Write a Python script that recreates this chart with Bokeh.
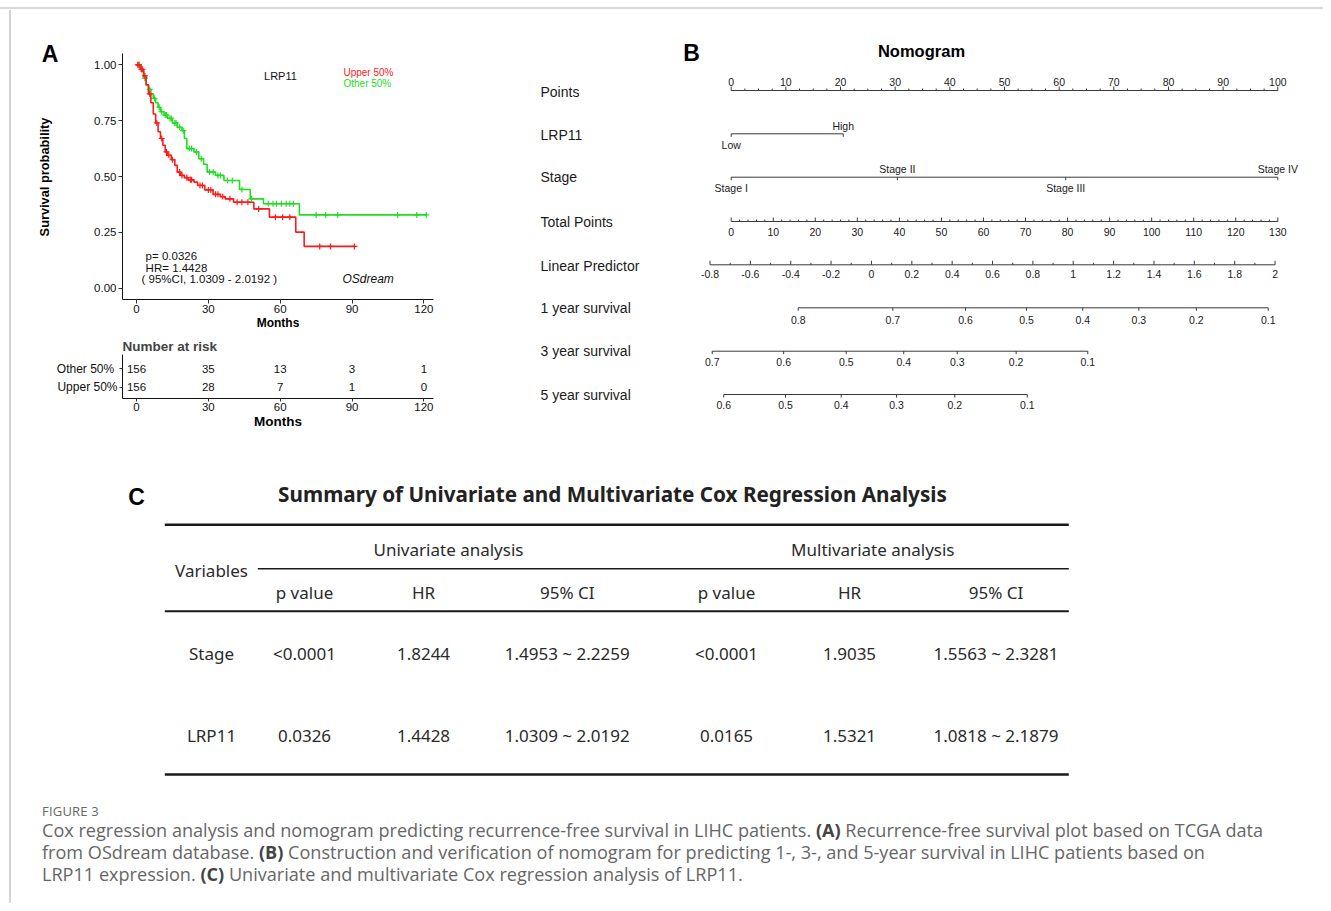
import numpy as np
from bokeh.plotting import figure
from bokeh.models import Range1d, FixedTicker, NumeralTickFormatter, Div, Spacer
from bokeh.layouts import row, column
from bokeh.embed import file_html
from bokeh.resources import INLINE
from bokeh.core.properties import value

ARIAL = value("Liberation Sans")
NOTO = value("Noto Sans")

# ---------------- Panel A: Kaplan-Meier data ----------------
upper_time = [0, 1.5, 3, 4, 5, 6, 7, 8, 9, 10, 11, 12, 13, 14.5, 16, 17, 18.5, 20, 21.5, 24,
              25.5, 28.5, 32, 35, 37, 40.5, 49, 55.5, 66.5, 70]
upper_surv = [1.0, 0.98, 0.95, 0.91, 0.87, 0.83, 0.78, 0.74, 0.70, 0.67, 0.64, 0.61, 0.595, 0.575,
              0.55, 0.52, 0.505, 0.495, 0.485, 0.475, 0.46, 0.44, 0.42, 0.41, 0.40, 0.385, 0.355,
              0.318, 0.251, 0.187]
upper_end = 91
upper_censor = [0.5, 1, 2, 2.5, 3.5, 5.5, 8.5, 10.5, 12.5, 13.5, 15, 18, 19, 21, 22.5, 23, 26.5,
                27.5, 30, 31, 33, 34, 36, 39, 42, 44, 46.5, 51, 58, 61, 64, 76.5, 81, 91]

other_time = [0, 2, 3, 4, 5, 6, 7, 8, 9, 10, 11.5, 13, 15, 17, 19, 20, 21, 24, 26, 28,
              29.5, 33, 36.5, 43, 47.5, 53, 68]
other_surv = [1.0, 0.97, 0.94, 0.91, 0.89, 0.87, 0.85, 0.83, 0.81, 0.79, 0.775, 0.76, 0.74, 0.72,
              0.705, 0.67, 0.625, 0.61, 0.58, 0.555, 0.52, 0.505, 0.482, 0.442, 0.40, 0.378, 0.328]
other_end = 121
other_censor = [1, 3.5, 5.5, 7.5, 9.5, 10.5, 12, 12.5, 14, 14.5, 16, 16.5, 18, 19.5, 22, 23, 25, 27,
                30.5, 32, 34, 35, 38, 40, 44, 48, 55, 57, 58.5, 60.5, 62.5, 64, 65.5, 75, 79, 84,
                109, 117, 121]

km_xticks = [0, 30, 60, 90, 120]
km_yticks = [0, 0.25, 0.5, 0.75, 1.0]
group_names = ["Upper 50%", "Other  50%"]
stats_lines = ["p= 0.0326", "HR= 1.4428", "( 95%CI, 1.0309 - 2.0192 )"]

risk_time = [0, 30, 60, 90, 120]
risk_other = [156, 35, 13, 3, 1]
risk_upper = [156, 28, 7, 1, 0]

# ---------------- Panel B: nomogram data ----------------
points_ticks = [0, 10, 20, 30, 40, 50, 60, 70, 80, 90, 100]
lrp11_levels = ["Low", "High"]
lrp11_points = [0, 20.5]
stage_levels = ["Stage I", "Stage II", "Stage III", "Stage IV"]
stage_points = [0, 30.4, 61.2, 100]
total_ticks = [0, 10, 20, 30, 40, 50, 60, 70, 80, 90, 100, 110, 120, 130]
lp_ticks = [-0.8, -0.6, -0.4, -0.2, 0, 0.2, 0.4, 0.6, 0.8, 1.0, 1.2, 1.4, 1.6, 1.8, 2.0]
lp_at_zero = -0.695      # linear predictor at 0 total points
lp_per_point = 0.020835  # linear predictor per total point
surv1_ticks = [0.8, 0.7, 0.6, 0.5, 0.4, 0.3, 0.2, 0.1]
surv1_lp = [-0.363, 0.106, 0.466, 0.768, 1.047, 1.325, 1.610, 1.966]
surv3_ticks = [0.7, 0.6, 0.5, 0.4, 0.3, 0.2, 0.1]
surv3_lp = [-0.789, -0.435, -0.125, 0.160, 0.425, 0.717, 1.072]
surv5_ticks = [0.6, 0.5, 0.4, 0.3, 0.2, 0.1]
surv5_lp = [-0.732, -0.426, -0.150, 0.124, 0.413, 0.772]

# ---------------- Panel C: Cox table ----------------
tbl_vars = ["Stage", "LRP11"]
uni_p = ["<0.0001", "0.0326"]
uni_hr = ["1.8244", "1.4428"]
uni_ci = ["1.4953 ~ 2.2259", "1.0309 ~ 2.0192"]
multi_p = ["<0.0001", "0.0165"]
multi_hr = ["1.9035", "1.5321"]
multi_ci = ["1.5563 ~ 2.3281", "1.0818 ~ 2.1879"]
col_headers = ["p value", "HR", "95% CI", "p value", "HR", "95% CI"]

RED = "#ff1a1a"
GREEN = "#22dd22"
NOMARGIN = (0, 0, 0, 0)


def canvas(w, h, x0, x1, y0, y1):
    f = figure(width=w, height=h, x_range=Range1d(x0, x1), y_range=Range1d(y0, y1),
               x_axis_type=None, y_axis_type=None, output_backend="svg",
               toolbar_location=None, min_border=0)
    f.grid.visible = False
    f.outline_line_color = None
    return f


def surv_at(times, surv, ts):
    idx = np.searchsorted(np.asarray(times), np.asarray(ts), side="right") - 1
    return [surv[i] for i in idx]


# ---------------- A: left labels (HTML text) ----------------
lab_html = (
    '<div style="position:relative;width:79px;height:325px;margin:0;padding:0;">'
    '<span style="position:absolute;left:39px;top:43.5px;transform:translate(-50%,-50%);'
    'font-family:\'Liberation Sans\';font-weight:bold;font-size:23px;line-height:1;color:#000;">A</span>'
    '<span style="position:absolute;left:34px;top:167px;transform:translate(-50%,-50%) rotate(-90deg);'
    'white-space:nowrap;font-family:\'Liberation Sans\';font-weight:bold;font-size:12.8px;'
    'line-height:1;color:#000;">Survival probability</span></div>'
)
lab = Div(text=lab_html, width=79, height=325, margin=NOMARGIN)

# ---------------- A: KM plot ----------------
km = figure(width=430, height=325, x_range=Range1d(-5.85, 124.0), y_range=Range1d(-0.0506, 1.0506),
            output_backend="svg", toolbar_location=None, min_border_left=32, min_border_right=87,
            min_border_top=43, min_border_bottom=36)
km.grid.visible = False
km.outline_line_color = None


def style_axis(ax, size="11px"):
    ax.axis_line_color = "#111"
    ax.axis_line_width = 1
    ax.major_tick_line_color = "#333"
    ax.major_tick_out = 4
    ax.major_tick_in = 0
    ax.minor_tick_line_color = None
    ax.major_label_text_font = "Liberation Sans"
    ax.major_label_text_font_size = size
    ax.major_label_text_color = "#111"
    ax.major_label_standoff = 1
    ax.axis_label_text_font = "Liberation Sans"
    ax.axis_label_text_font_style = "bold"
    ax.axis_label_text_color = "#000"
    ax.axis_label_standoff = 0


km.xaxis.ticker = FixedTicker(ticks=km_xticks)
km.yaxis.ticker = FixedTicker(ticks=km_yticks)
km.yaxis.formatter = NumeralTickFormatter(format="0.00")
style_axis(km.xaxis[0], "11.5px")
style_axis(km.yaxis[0], "11.5px")
km.yaxis.major_label_standoff = 2
km.xaxis.axis_label = "Months"
km.xaxis.axis_label_text_font_size = "12px"

for t, s, end, cens, col in [(other_time, other_surv, other_end, other_censor, GREEN),
                             (upper_time, upper_surv, upper_end, upper_censor, RED)]:
    km.step(x=list(t) + [end], y=list(s) + [s[-1]], mode="after", line_color=col, line_width=1.6)
    km.scatter(x=cens, y=surv_at(t, s, cens), marker="cross", size=6, line_color=col,
               line_width=1.2)

km.text(x=[60.1], y=[0.952], text=["LRP11"], text_font=ARIAL, text_font_size="11px",
        text_align="center", text_baseline="middle", text_color="#111")
km.text(x=[86.4, 86.4], y=[0.966, 0.916], text=group_names, text_font=ARIAL,
        text_font_size="10px", text_align="left", text_baseline="middle",
        text_color=[RED, GREEN])
km.text(x=[3.8, 3.8, 2.1], y=[0.142, 0.0895, 0.039], text=stats_lines, text_font=ARIAL,
        text_font_size="11.5px", text_align="left", text_baseline="middle", text_color="#111")
km.text(x=[86], y=[0.043], text=["OSdream"], text_font=ARIAL, text_font_style="italic",
        text_font_size="12px", text_align="left", text_baseline="middle", text_color="#111")

# ---------------- A: number at risk ----------------
risk = figure(width=509, height=105, x_range=Range1d(-5.85, 124.0), y_range=Range1d(0.389, 2.774),
              output_backend="svg", toolbar_location=None, min_border_left=111,
              min_border_right=87, min_border_top=18, min_border_bottom=42,
              title="Number at risk")
risk.title.align = "left"
risk.title.text_font = "Liberation Sans"
risk.title.text_font_size = "13.5px"
risk.title.text_font_style = "bold"
risk.title.standoff = 2
risk.title.offset = 0
risk.grid.visible = False
risk.outline_line_color = None
risk.xaxis.ticker = FixedTicker(ticks=km_xticks)
risk.yaxis.ticker = FixedTicker(ticks=[1, 2])
risk.yaxis.major_label_overrides = {1: group_names[0], 2: group_names[1]}
style_axis(risk.xaxis[0], "11.5px")
style_axis(risk.yaxis[0], "12px")
risk.xaxis.major_tick_out = 3
risk.yaxis.major_tick_out = 3
risk.yaxis.major_label_standoff = 2
risk.xaxis.axis_label = "Months"
risk.xaxis.axis_label_text_font_size = "13.5px"
risk.text(x=risk_time, y=[2] * len(risk_time), text=[str(v) for v in risk_other], text_font=ARIAL,
          text_font_size="11.5px", text_align="center", text_baseline="middle", text_color="#111")
risk.text(x=risk_time, y=[1] * len(risk_time), text=[str(v) for v in risk_upper], text_font=ARIAL,
          text_font_size="11.5px", text_align="center", text_baseline="middle", text_color="#111")

# ---------------- B: nomogram ----------------
PX0, PXS = 730.7, 5.466  # page-pixel position of 0 points and pixels per point (layout only)


def px(xpix):
    return (xpix - PX0) / PXS


def tp_x(tp):
    return [v * 100.0 / 130.0 for v in tp]


def lp_x(lps):
    return [(v - lp_at_zero) / lp_per_point * 100.0 / 130.0 for v in lps]


nomo = canvas(803, 430, px(520), px(1323), 440, 10)
LC = "#3a3a3a"
TC = "#1a1a1a"


def seg(f, x0, y0, x1, y1, w=1.0, c=LC):
    f.segment(x0=x0, y0=y0, x1=x1, y1=y1, line_color=c, line_width=w)


def nomo_axis(xs, labels, yline, ylab, tdir, xfrom, xto, minor=None, tlen=4):
    seg(nomo, [xfrom], [yline], [xto], [yline])
    seg(nomo, xs, [yline] * len(xs), xs, [yline + tdir * tlen] * len(xs))
    if minor is not None:
        seg(nomo, minor, [yline] * len(minor), minor, [yline + tdir * 2] * len(minor))
    nomo.text(x=xs, y=[ylab] * len(xs), text=labels, text_font=ARIAL, text_font_size="10.5px",
              text_align="center", text_baseline="middle", text_color=TC)


def fmt(v):
    return f"{v:g}"


nomo.text(x=[px(691)], y=[52], text=["B"], text_font=ARIAL, text_font_style="bold",
          text_font_size="23px", text_align="center", text_baseline="middle", text_color="#000")
nomo.text(x=[px(921)], y=[50], text=["Nomogram"], text_font=ARIAL, text_font_style="bold",
          text_font_size="16.5px", text_align="center", text_baseline="middle", text_color="#000")

row_names = ["Points", "LRP11", "Stage", "Total Points", "Linear Predictor",
             "1 year survival", "3 year survival", "5 year survival"]
row_y = [91.7, 134.5, 176.7, 221.7, 265, 307.3, 350.7, 394]
nomo.text(x=[px(540)] * len(row_names), y=row_y, text=row_names, text_font=ARIAL,
          text_font_size="14px", text_align="left", text_baseline="middle", text_color=TC)

# Points
nomo_axis(points_ticks, [fmt(v) for v in points_ticks], 90, 81.7, -1, 0, 100,
          minor=[v for v in np.arange(0, 100.01, 2.5) if v % 10 != 0])
# LRP11
seg(nomo, [lrp11_points[0]], [133.3], [lrp11_points[-1]], [133.3])
seg(nomo, lrp11_points, [133.3] * 2, lrp11_points, [136.3] * 2)
nomo.text(x=lrp11_points, y=[144.3, 125.7], text=lrp11_levels, text_font=ARIAL,
          text_font_size="10.5px", text_align="center", text_baseline="middle", text_color=TC)
# Stage
seg(nomo, [stage_points[0]], [176.7], [stage_points[-1]], [176.7])
seg(nomo, stage_points, [176.7] * 4, stage_points, [179.7] * 4)
nomo.text(x=stage_points, y=[187.3, 168.3, 187.3, 168.3], text=stage_levels, text_font=ARIAL,
          text_font_size="10.5px", text_align="center", text_baseline="middle", text_color=TC)
# Total points
nomo_axis(tp_x(total_ticks), [fmt(v) for v in total_ticks], 221, 231.7, -1, 0, tp_x([130])[0],
          minor=tp_x([v for v in range(0, 131, 2) if v % 10 != 0]))
# Linear predictor
nomo_axis(lp_x(lp_ticks), [fmt(v) for v in lp_ticks], 264.3, 273.3, -1,
          lp_x([lp_ticks[0]])[0], lp_x([lp_ticks[-1]])[0],
          minor=lp_x([round(v, 1) for v in np.arange(-0.7, 2.0, 0.2)]))
# survival scales
for ticks, lps, yl, ylab in [(surv1_ticks, surv1_lp, 307.3, 319.3),
                             (surv3_ticks, surv3_lp, 350.7, 361.7),
                             (surv5_ticks, surv5_lp, 394, 404.3)]:
    xs = lp_x(lps)
    nomo_axis(xs, [fmt(v) for v in ticks], yl, ylab, 1, xs[0], xs[-1], tlen=3)

# ---------------- C: table ----------------
tab = canvas(1312, 355, 11, 1323, 795, 440)
TXT = "#2a2a2a"
tab.text(x=[136], y=[496.5], text=["C"], text_font=ARIAL, text_font_style="bold",
         text_font_size="23px", text_align="center", text_baseline="middle", text_color="#000")
tab.text(x=[612], y=[493.3], text=["Summary of Univariate and Multivariate Cox Regression Analysis"],
         text_font=NOTO, text_font_style="bold", text_font_size="20.7px", text_align="center",
         text_baseline="middle", text_color="#222")
L, R = 164.3, 1068.3
seg(tab, [L], [524.3], [R], [524.3], w=2.6, c="#1a1a1a")
seg(tab, [257.3], [568.3], [R], [568.3], w=1.6, c="#1a1a1a")
seg(tab, [L], [610.7], [R], [610.7], w=2.0, c="#1a1a1a")
seg(tab, [L], [774], [R], [774], w=2.6, c="#1a1a1a")

col_x = [304, 423, 566.7, 726, 849, 995.5]
tab.text(x=[448, 872.3], y=[549.3, 549.3], text=["Univariate analysis", "Multivariate analysis"],
         text_font=NOTO, text_font_size="17px", text_align="center", text_baseline="middle",
         text_color=TXT)
tab.text(x=[211], y=[570], text=["Variables"], text_font=NOTO, text_font_size="17px",
         text_align="center", text_baseline="middle", text_color=TXT)
tab.text(x=col_x, y=[591.7] * 6, text=col_headers, text_font=NOTO, text_font_size="17px",
         text_align="center", text_baseline="middle", text_color=TXT)
row_ys = [653.3, 735]
for i, ry in enumerate(row_ys):
    vals = [tbl_vars[i], uni_p[i], uni_hr[i], uni_ci[i], multi_p[i], multi_hr[i], multi_ci[i]]
    tab.text(x=[211] + col_x, y=[ry] * 7, text=vals, text_font=NOTO, text_font_size="17px",
             text_align="center", text_baseline="middle", text_color=TXT)

# ---------------- caption ----------------
cap_html = (
    '<div style="font-family:\'Open Sans\';color:#666;padding:8px 0 0 31px;margin:0;'
    'white-space:nowrap;">'
    '<div style="font-size:13px;line-height:16px;letter-spacing:0.2px;">FIGURE 3</div>'
    '<div style="font-size:18.1px;line-height:22px;">'
    'Cox regression analysis and nomogram predicting recurrence-free survival in LIHC patients. '
    '<b style="color:#444">(A)</b> Recurrence-free survival plot based on TCGA data<br>'
    'from OSdream database. <b style="color:#444">(B)</b> Construction and verification of nomogram '
    'for predicting 1-, 3-, and 5-year survival in LIHC patients based on<br>'
    'LRP11 expression. <b style="color:#444">(C)</b> Univariate and multivariate Cox regression '
    'analysis of LRP11.</div></div>'
)
caption = Div(text=cap_html, width=1312, height=108, margin=NOMARGIN)

# ---------------- frame lines & layout ----------------
top_line = Div(text="", width=1323, height=2, margin=NOMARGIN,
               styles={"background-color": "#d9d9d9"})
left_line = Div(text="", width=2, height=893, margin=NOMARGIN,
                styles={"background-color": "#d4d4d4"})

panel_a = column(row(lab, km), risk)
top_row = row(panel_a, nomo)
right_col = column(top_row, tab, caption)
body = row(Spacer(width=9, height=893), left_line, right_col)
layout = column(Spacer(width=1323, height=7), top_line, Spacer(width=1323, height=1), body)

open("out.html", "w").write(file_html(layout, INLINE))
